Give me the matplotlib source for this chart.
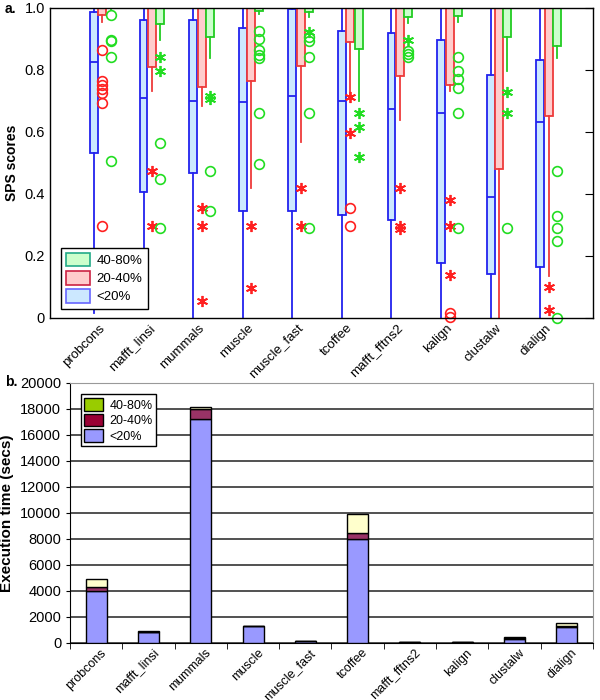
import numpy as np
import matplotlib
matplotlib.use("Agg")
import matplotlib.pyplot as plt
from matplotlib.patches import Patch

plt.rcParams['font.family'] = ['Liberation Sans', 'DejaVu Sans']

########################################################################################
'DATA'

methods = ['probcons', 'mafft_linsi', 'mummals', 'muscle', 'muscle_fast',
           'tcoffee', 'mafft_fftns2', 'kalign', 'clustalw', 'dialign']

# SPS box statistics, <20% identity
blue_q1 = [0.531, 0.405, 0.467, 0.346, 0.346, 0.330, 0.314, 0.176, 0.142, 0.164]
blue_med = [0.825, 0.709, 0.700, 0.695, 0.714, 0.698, 0.674, 0.660, 0.391, 0.630]
blue_q3 = [0.986, 0.959, 0.959, 0.934, 0.997, 0.924, 0.920, 0.897, 0.784, 0.832]
blue_lo = [0.015, 0.031, 0.0, 0.0, 0.0, 0.0, 0.0, 0.0, 0.0, 0.0]
blue_hi = [1.0, 1.0, 1.0, 1.0, 1.0, 1.0, 1.0, 1.0, 1.0, 1.0]

# 20-40% identity
red_q1 = [0.977, 0.809, 0.744, 0.765, 0.811, 0.888, 0.779, 0.752, 0.480, 0.652]
red_med = [1.0, 1.0, 1.0, 1.0, 1.0, 1.0, 1.0, 1.0, 1.0, 1.0]
red_q3 = [1.0, 1.0, 1.0, 1.0, 1.0, 1.0, 1.0, 1.0, 1.0, 1.0]
red_lo = [0.953, 0.730, 0.682, 0.418, 0.566, 0.716, 0.639, 0.730, 0.0, 0.135]
red_hi = [1.0, 1.0, 1.0, 1.0, 1.0, 1.0, 1.0, 1.0, 1.0, 1.0]

# 40-80% identity
green_q1 = [0.998, 0.947, 0.907, 0.988, 0.985, 0.868, 0.970, 0.974, 0.907, 0.878]
green_med = [1.0, 1.0, 1.0, 1.0, 1.0, 1.0, 1.0, 1.0, 1.0, 1.0]
green_q3 = [1.0, 1.0, 1.0, 1.0, 1.0, 1.0, 1.0, 1.0, 1.0, 1.0]
green_lo = [0.995, 0.895, 0.838, 0.980, 0.970, 0.698, 0.950, 0.955, 0.797, 0.837]
green_hi = [1.0, 1.0, 1.0, 1.0, 1.0, 1.0, 1.0, 1.0, 1.0, 1.0]

# outliers
red_circles = [[0.865, 0.765, 0.752, 0.738, 0.725, 0.693, 0.297], [], [], [], [],
               [0.354, 0.297], [], [0.015, 0.002], [], []]
red_stars = [[], [0.472, 0.297], [0.354, 0.297, 0.053], [0.297, 0.096], [0.420, 0.295],
             [0.713, 0.596], [0.420, 0.295, 0.286], [0.381, 0.297, 0.139], [], [0.099, 0.026]]
green_circles = [[0.977, 0.897, 0.894, 0.840, 0.507], [0.563, 0.447, 0.291], [0.475, 0.345],
                 [0.924, 0.899, 0.862, 0.848, 0.837, 0.662, 0.496],
                 [0.907, 0.894, 0.840, 0.662, 0.291], [], [0.860, 0.850, 0.840],
                 [0.840, 0.797, 0.771, 0.741, 0.662, 0.291], [0.291],
                 [0.475, 0.329, 0.291, 0.249, 0.0]]
green_stars = [[], [0.840, 0.797], [0.714, 0.705], [], [0.921], [0.662, 0.615, 0.517],
               [0.895], [], [0.728, 0.662], []]

# execution time (secs)
time_lt20 = [4000, 790, 17200, 1280, 120, 7950, 40, 10, 260, 1180]
time_20_40 = [260, 50, 780, 10, 20, 460, 10, 5, 130, 60]
time_40_80 = [660, 20, 170, 5, 10, 1490, 5, 5, 20, 250]

########################################################################################
'FIGURE'

fig = plt.figure(figsize=(6, 7), dpi=100)
ax1 = fig.add_axes([0.083, 0.546, 0.905, 0.443])
ax2 = fig.add_axes([0.117, 0.082, 0.871, 0.371])

x = np.arange(len(methods))
series = [
    (blue_q1, blue_med, blue_q3, blue_lo, blue_hi, 0.0, '#2222ee', '#cce8ff'),
    (red_q1, red_med, red_q3, red_lo, red_hi, 0.171, '#ee3a3a', '#ffcccc'),
    (green_q1, green_med, green_q3, green_lo, green_hi, 0.337, '#22cc22', '#ccffcc'),
]
for q1, med, q3, lo, hi, off, edge, face in series:
    stats = [dict(q1=q1[i], med=med[i], q3=q3[i], whislo=lo[i], whishi=hi[i], fliers=[])
             for i in range(len(methods))]
    ax1.bxp(stats, positions=x + off, widths=0.16, showcaps=False, showfliers=False,
            patch_artist=True, manage_ticks=False,
            boxprops=dict(facecolor=face, edgecolor=edge, linewidth=1.3),
            medianprops=dict(color=edge, linewidth=1.3),
            whiskerprops=dict(color=edge, linewidth=1.3))

star = (6, 2, 0)
for i in range(len(methods)):
    ax1.plot([x[i] + 0.171] * len(red_circles[i]), red_circles[i], 'o', ms=7,
             mfc='none', mec='#ff2020', mew=1.2, clip_on=False)
    ax1.plot([x[i] + 0.171] * len(red_stars[i]), red_stars[i], ls='none', marker=star,
             ms=8, mec='#ff2020', mew=1.3, clip_on=False)
    ax1.plot([x[i] + 0.337] * len(green_circles[i]), green_circles[i], 'o', ms=7,
             mfc='none', mec='#22dd22', mew=1.2, clip_on=False)
    ax1.plot([x[i] + 0.337] * len(green_stars[i]), green_stars[i], ls='none', marker=star,
             ms=8, mec='#22dd22', mew=1.3, clip_on=False)

ax1.set_xlim(-0.89, 10.06)
ax1.set_ylim(0, 1.0)
ax1.set_yticks([0, 0.2, 0.4, 0.6, 0.8, 1.0])
ax1.set_yticklabels(['0', '0.2', '0.4', '0.6', '0.8', '1.0'], fontsize=10.5)
ax1.set_xticks(x + 0.1)
ax1.set_xticklabels(methods, rotation=45, ha='right', rotation_mode='anchor', fontsize=9.5)
ax1.tick_params(axis='x', length=0, pad=3)
ax1.set_ylabel('SPS scores', fontsize=10, fontweight='bold', labelpad=4)
for s in ax1.spines.values():
    s.set_linewidth(1.0)
ax1.yaxis.set_ticks_position('right')
ax1.yaxis.set_label_position('left')
ax1.tick_params(axis='y', direction='in', length=6, labelleft=True, labelright=False)

leg1 = ax1.legend(handles=[Patch(facecolor='#ccffcc', edgecolor='#22aa88', lw=1.2, label='40-80%'),
                           Patch(facecolor='#ffcccc', edgecolor='#cc2244', lw=1.2, label='20-40%'),
                           Patch(facecolor='#cce8ff', edgecolor='#6666ff', lw=1.2, label='<20%')],
                  loc='lower left', bbox_to_anchor=(0.008, 0.008), fontsize=9.5,
                  fancybox=False, framealpha=1, edgecolor='black', borderpad=0.4,
                  handlelength=1.8, handleheight=1.2, labelspacing=0.3, handletextpad=0.5)
leg1.get_frame().set_linewidth(1.0)

fig.text(0.008, 0.982, 'a.', fontsize=10, fontweight='bold')

########################################################################################
'EXECUTION TIME'

b1 = np.array(time_lt20)
b2 = np.array(time_20_40)
b3 = np.array(time_40_80)
ax2.bar(x, b1, 0.4, color='#9999ff', edgecolor='black', lw=1, zorder=3)
ax2.bar(x, b2, 0.4, bottom=b1, color='#993366', edgecolor='black', lw=1, zorder=3)
ax2.bar(x, b3, 0.4, bottom=b1 + b2, color='#ffffcc', edgecolor='black', lw=1, zorder=3)

ax2.set_xlim(-0.5, 9.5)
ax2.set_ylim(0, 20000)
ax2.set_yticks(np.arange(0, 20001, 2000))
ax2.set_yticklabels([str(v) for v in range(0, 20001, 2000)], fontsize=10.5)
ax2.yaxis.grid(True, color='#333333', lw=1.2, zorder=0)
ax2.tick_params(axis='y', direction='out', length=3)
ax2.set_xticks(x + 0.08)
ax2.set_xticklabels(methods, rotation=45, ha='right', rotation_mode='anchor', fontsize=9)
ax2.set_xticks(np.arange(-0.5, 10, 1), minor=True)
ax2.tick_params(axis='x', which='major', length=0, pad=3)
ax2.tick_params(axis='x', which='minor', length=4, direction='out')
ax2.set_ylabel('Execution time (secs)', fontsize=11, fontweight='bold', labelpad=4)
ax2.spines['top'].set_color('#999999')
ax2.spines['right'].set_color('#999999')

leg2 = ax2.legend(handles=[Patch(facecolor='#99cc00', edgecolor='black', label='40-80%'),
                           Patch(facecolor='#990033', edgecolor='black', label='20-40%'),
                           Patch(facecolor='#9999ff', edgecolor='black', label='<20%')],
                  loc='upper left', bbox_to_anchor=(0.008, 0.98), fontsize=9,
                  fancybox=False, framealpha=1, edgecolor='black', borderpad=0.3,
                  handlelength=1.5, handleheight=1.2, labelspacing=0.15, handletextpad=0.5)
leg2.get_frame().set_linewidth(1.0)

fig.text(0.008, 0.448, 'b.', fontsize=10, fontweight='bold')

fig.savefig('out.png', dpi=100)
